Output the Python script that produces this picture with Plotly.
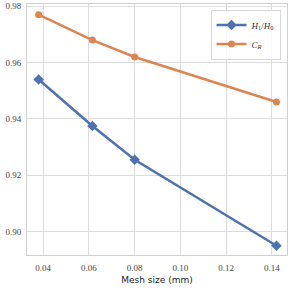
import plotly.graph_objects as go

mesh_size = [0.038, 0.0615, 0.080, 0.142]
h_ratio = [0.954, 0.9375, 0.9255, 0.895]
c_r = [0.977, 0.968, 0.962, 0.946]
x_ticks = [0.04, 0.06, 0.08, 0.10, 0.12, 0.14]
y_ticks = [0.90, 0.92, 0.94, 0.96, 0.98]

blue = "#4c72b0"
orange = "#dd8452"

fig = go.Figure()
fig.add_trace(go.Scatter(
    x=mesh_size, y=h_ratio, mode="lines+markers",
    name="<i>H</i><sub>1</sub>/<i>H</i><sub>0</sub>",
    line=dict(color=blue, width=2.5),
    marker=dict(symbol="diamond", size=8, color=blue),
))
fig.add_trace(go.Scatter(
    x=mesh_size, y=c_r, mode="lines+markers",
    name="<i>C<sub>R</sub></i>",
    line=dict(color=orange, width=2.5),
    marker=dict(symbol="circle", size=7, color=orange),
))

axis_common = dict(
    showgrid=True, gridcolor="#dcdcdc", gridwidth=1,
    showline=True, linecolor="#d0d0d0", linewidth=1, mirror=True,
    zeroline=False, ticks="", automargin=False,
    tickfont=dict(family="Liberation Serif, DejaVu Serif, serif", size=9, color="#444444"),
)

fig.update_layout(
    width=291, height=289,
    margin=dict(l=27, r=4, t=4, b=34),
    paper_bgcolor="white", plot_bgcolor="white",
    showlegend=True,
    legend=dict(
        x=0.975, y=0.978, xanchor="right", yanchor="top",
        bgcolor="rgba(255,255,255,0.8)", bordercolor="#d8d8d8", borderwidth=1,
        font=dict(family="Liberation Serif, DejaVu Serif, serif", size=9, color="#333333"),
        itemwidth=30, tracegroupgap=0,
    ),
    xaxis=dict(
        range=[0.0329, 0.1466], tickvals=x_ticks,
        ticktext=[f"{v:.2f}" for v in x_ticks],
        ticklabelstandoff=4,
        title=dict(text="Mesh size (mm)", standoff=4,
                   font=dict(family="DejaVu Sans, sans-serif", size=9, color="#222222")),
        **axis_common,
    ),
    yaxis=dict(
        range=[0.8917, 0.9808], tickvals=y_ticks,
        ticktext=[f"{v:.2f}" for v in y_ticks],
        ticklabelstandoff=3,
        **axis_common,
    ),
)

fig.write_html(
    "out.html",
    config={"displayModeBar": False},
    post_script="document.body.style.margin='0';document.body.style.overflow='hidden';",
)
